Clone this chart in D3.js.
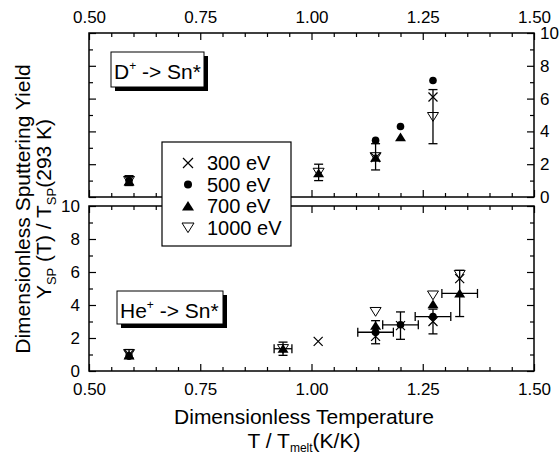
<!DOCTYPE html>
<html>
<head>
<meta charset="utf-8">
<script src="https://cdn.jsdelivr.net/npm/d3@7"></script>
<style>
  body { margin: 0; background: #fff; }
  text { font-family: "Liberation Sans", Arial, sans-serif; fill: #000; }
</style>
</head>
<body>
<svg id="chart" width="560" height="458"></svg>
<script>
// tick values
var xMajor = [0.5, 0.75, 1.0, 1.25, 1.5];
var yMajor = [0, 2, 4, 6, 8, 10];
var energies = ["300 eV", "500 eV", "700 eV", "1000 eV"];

// D+ -> Sn*   points: [T/Tmelt, yield, yErr, xErr]
var dSer300 = [[0.59, 1.0], [1.144, 2.4], [1.273, 6.1]];
var dSer500 = [[0.59, 1.0], [1.144, 3.45], [1.20, 4.3], [1.273, 7.1]];
var dSer700 = [[0.59, 0.95], [1.016, 1.45], [1.144, 2.4], [1.20, 3.65]];
var dSer1000 = [[0.59, 1.0, 0.3], [1.016, 1.5, 0.5], [1.144, 2.45, 0.8], [1.273, 4.9, 1.65]];

// He+ -> Sn*
var heSer300 = [[0.59, 1.0], [1.015, 1.8], [1.144, 2.1], [1.20, 2.75, 0.83], [1.273, 3.0, 0.75], [1.333, 5.6]];
var heSer500 = [[0.59, 0.9], [1.144, 2.35, 0.7, 0.04], [1.20, 2.8, 0, 0.04], [1.273, 3.3, 0, 0.04]];
var heSer700 = [[0.59, 0.95], [0.936, 1.35], [1.144, 2.75], [1.273, 4.05], [1.333, 4.7, 1.4, 0.04]];
var heSer1000 = [[0.59, 1.05, 0.25], [0.936, 1.35, 0.4, 0.02], [1.144, 3.6], [1.273, 4.6], [1.333, 5.85]];

var svg = d3.select("#chart");

var x = d3.scaleLinear().domain([0.5, 1.5]).range([89, 534]);
var yTop = d3.scaleLinear().domain([0, 10]).range([197, 33]);
var yBot = d3.scaleLinear().domain([0, 10]).range([371, 206]);

var xMinor = d3.range(0.5, 1.5001, 0.05).filter(v => xMajor.every(m => Math.abs(m - v) > 1e-6));
var yMinor = d3.range(1, 10, 2);

function noDomain(g) {
  g.select(".domain").remove();
  g.selectAll(".tick line").attr("stroke", "#000").attr("stroke-width", 1.2);
  g.selectAll(".tick text").attr("font-size", 17).attr("font-family", "Liberation Sans, Arial, sans-serif");
}

function panel(y, opts) {
  var top = y.range()[1], bot = y.range()[0];
  var g = svg.append("g");
  var fmt = d3.format(".2f");

  // bottom edge
  g.append("g").attr("transform", `translate(0,${bot})`)
    .call(d3.axisBottom(x).tickValues(xMajor).tickSize(-7).tickSizeOuter(0).tickPadding(12)
      .tickFormat(opts.bottomLabels ? fmt : ""))
    .call(noDomain);
  g.append("g").attr("transform", `translate(0,${bot})`)
    .call(d3.axisBottom(x).tickValues(xMinor).tickSize(-4).tickSizeOuter(0).tickFormat(""))
    .call(noDomain);
  // top edge
  g.append("g").attr("transform", `translate(0,${top})`)
    .call(d3.axisTop(x).tickValues(xMajor).tickSize(-7).tickSizeOuter(0).tickPadding(10)
      .tickFormat(opts.topLabels ? fmt : ""))
    .call(noDomain);
  g.append("g").attr("transform", `translate(0,${top})`)
    .call(d3.axisTop(x).tickValues(xMinor).tickSize(-4).tickSizeOuter(0).tickFormat(""))
    .call(noDomain);
  // left edge
  g.append("g").attr("transform", `translate(${x.range()[0]},0)`)
    .call(d3.axisLeft(y).tickValues(yMajor).tickSize(-7).tickSizeOuter(0).tickPadding(9)
      .tickFormat(opts.leftLabels ? d3.format("d") : ""))
    .call(noDomain);
  g.append("g").attr("transform", `translate(${x.range()[0]},0)`)
    .call(d3.axisLeft(y).tickValues(yMinor).tickSize(-4).tickSizeOuter(0).tickFormat(""))
    .call(noDomain);
  // right edge
  g.append("g").attr("transform", `translate(${x.range()[1]},0)`)
    .call(d3.axisRight(y).tickValues(yMajor).tickSize(-7).tickSizeOuter(0).tickPadding(6)
      .tickFormat(opts.rightLabels ? d3.format("d") : ""))
    .call(noDomain);
  g.append("g").attr("transform", `translate(${x.range()[1]},0)`)
    .call(d3.axisRight(y).tickValues(yMinor).tickSize(-4).tickSizeOuter(0).tickFormat(""))
    .call(noDomain);

  g.append("rect")
    .attr("x", x.range()[0]).attr("y", top)
    .attr("width", x.range()[1] - x.range()[0]).attr("height", bot - top)
    .attr("fill", "none").attr("stroke", "#000").attr("stroke-width", 1.5);
  return g;
}

function errorBars(g, data, y) {
  data.forEach(function(d) {
    var cx = x(d[0]), cy = y(d[1]);
    if (d[2]) {
      var y0 = y(d[1] - d[2]), y1 = y(d[1] + d[2]);
      g.append("line").attr("x1", cx).attr("x2", cx).attr("y1", y0).attr("y2", y1);
      g.append("line").attr("x1", cx - 4.5).attr("x2", cx + 4.5).attr("y1", y0).attr("y2", y0);
      g.append("line").attr("x1", cx - 4.5).attr("x2", cx + 4.5).attr("y1", y1).attr("y2", y1);
    }
    if (d[3]) {
      var x0 = x(d[0] - d[3]), x1 = x(d[0] + d[3]);
      g.append("line").attr("x1", x0).attr("x2", x1).attr("y1", cy).attr("y2", cy);
      g.append("line").attr("x1", x0).attr("x2", x0).attr("y1", cy - 4.5).attr("y2", cy + 4.5);
      g.append("line").attr("x1", x1).attr("x2", x1).attr("y1", cy - 4.5).attr("y2", cy + 4.5);
    }
  });
  g.selectAll("line").attr("stroke", "#000").attr("stroke-width", 1.3);
}

// marker drawers
function cross(g, cx, cy, s) {
  g.append("path").attr("d", `M${cx - s},${cy - s}L${cx + s},${cy + s}M${cx - s},${cy + s}L${cx + s},${cy - s}`)
    .attr("stroke", "#000").attr("stroke-width", 1.2).attr("fill", "none");
}
function dot(g, cx, cy, r) {
  g.append("circle").attr("cx", cx).attr("cy", cy).attr("r", r).attr("fill", "#000");
}
function triUp(g, cx, cy, s) {
  g.append("path").attr("d", `M${cx},${cy - s * 0.85}L${cx + s},${cy + s * 0.75}L${cx - s},${cy + s * 0.75}Z`)
    .attr("fill", "#000");
}
function triDown(g, cx, cy, s) {
  g.append("path").attr("d", `M${cx - s},${cy - s * 0.75}L${cx + s},${cy - s * 0.75}L${cx},${cy + s * 0.85}Z`)
    .attr("fill", "none").attr("stroke", "#000").attr("stroke-width", 1);
}

function series(y, s300, s500, s700, s1000) {
  var g = svg.append("g");
  [s300, s500, s700, s1000].forEach(function(s) { errorBars(g.append("g"), s, y); });
  s500.forEach(d => dot(g, x(d[0]), y(d[1]), 3.8));
  s700.forEach(d => triUp(g, x(d[0]), y(d[1]), 5.5));
  s300.forEach(d => cross(g, x(d[0]), y(d[1]), 4.5));
  s1000.forEach(d => triDown(g, x(d[0]), y(d[1]), 5.5));
}

function tag(x0, y0, w, h, main, rest) {
  svg.append("rect").attr("x", x0 + 4).attr("y", y0 + 4).attr("width", w).attr("height", h).attr("fill", "#000");
  svg.append("rect").attr("x", x0).attr("y", y0).attr("width", w).attr("height", h)
    .attr("fill", "#fff").attr("stroke", "#000").attr("stroke-width", 1);
  var t = svg.append("text").attr("x", x0 + 3).attr("y", y0 + 27).attr("font-size", 21);
  t.append("tspan").text(main);
  t.append("tspan").attr("font-size", 12).attr("dy", -9).text("+");
  t.append("tspan").attr("dy", 9).text(rest);
}

panel(yTop, { topLabels: true, rightLabels: true });
panel(yBot, { bottomLabels: true, leftLabels: true });

series(yTop, dSer300, dSer500, dSer700, dSer1000);
series(yBot, heSer300, heSer500, heSer700, heSer1000);

tag(111, 52, 93, 35, "D", " -> Sn*");
tag(117, 291, 106, 33, "He", " -> Sn*");

// legend
var leg = svg.append("g");
leg.append("rect").attr("x", 162).attr("y", 142).attr("width", 129).attr("height", 104)
  .attr("fill", "#fff").attr("stroke", "#000").attr("stroke-width", 1.2);
var rowY = [163, 184.5, 206, 227.5];
cross(leg, 188, rowY[0], 5);
dot(leg, 188, rowY[1], 4);
triUp(leg, 188, rowY[2], 6);
triDown(leg, 188, rowY[3], 6);
energies.forEach(function(e, i) {
  leg.append("text").attr("x", 207).attr("y", rowY[i] + 7).attr("font-size", 20).text(e);
});

// axis titles
svg.append("text").attr("x", 304).attr("y", 424).attr("text-anchor", "middle").attr("font-size", 21)
  .text("Dimensionless Temperature");
var xt = svg.append("text").attr("x", 304).attr("y", 448).attr("text-anchor", "middle").attr("font-size", 21);
xt.append("tspan").text("T / T");
xt.append("tspan").attr("font-size", 12).attr("dy", 4).text("melt");
xt.append("tspan").attr("dy", -4).text("(K/K)");

var yt = svg.append("g").attr("transform", "translate(30,209) rotate(-90)");
yt.append("text").attr("text-anchor", "middle").attr("font-size", 21).text("Dimensionless Sputtering Yield");
var yt2 = yt.append("text").attr("y", 21).attr("text-anchor", "middle").attr("font-size", 21);
yt2.append("tspan").text("Y");
yt2.append("tspan").attr("font-size", 13).attr("dy", 5).text("SP");
yt2.append("tspan").attr("dy", -5).text(" (T) / T");
yt2.append("tspan").attr("font-size", 13).attr("dy", 5).text("SP");
yt2.append("tspan").attr("dy", -5).text("(293 K)");
</script>
</body>
</html>
